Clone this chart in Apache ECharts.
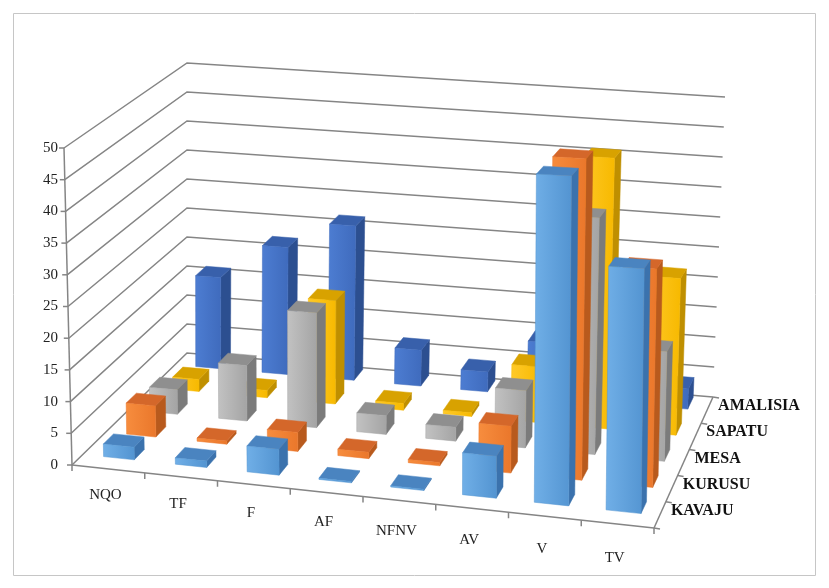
<!DOCTYPE html>
<html>
<head>
<meta charset="utf-8">
<script src="https://cdn.jsdelivr.net/npm/echarts@6/dist/echarts.min.js"></script>
<style>
  html, body { margin: 0; padding: 0; background: #fff; }
  #main { width: 829px; height: 588px; }
</style>
</head>
<body>
<div id="main"></div>
<script>
// categories along the front edge, rows going back into the chart
var categories = ['NQO', 'TF', 'F', 'AF', 'NFNV', 'AV', 'V', 'TV'];
var rowNames = ['KAVAJU', 'KURUSU', 'MESA', 'SAPATU', 'AMALISIA'];
var yTicks = [0, 5, 10, 15, 20, 25, 30, 35, 40, 45, 50];

// values per row
var kavaju   = [2, 1, 4, 0.2, 0.2, 6.3, 49, 36];
var kurusu   = [5, 0.5, 3, 1, 0.5, 7.2, 49, 33];
var mesa     = [4, 9, 18.5, 3, 2.2, 9, 37, 17];
var sapatu   = [2, 1.2, 17, 1.1, 0.6, 9, 43.5, 25];
var amalisia = [15.5, 21.5, 26, 6, 3.3, 9, 3, 3.3];
var rowValues = [kavaju, kurusu, mesa, sapatu, amalisia];

// face colours for each row: front (light, dark), side, top
var rowColors = [
    ['#70afe7', '#5394d1', '#3b72ad', '#4a84c0'],
    ['#f78d3e', '#ea772b', '#b85a1d', '#d4672a'],
    ['#c2c2c2', '#a4a4a4', '#7b7b7b', '#8f8f8f'],
    ['#ffca2a', '#f7b900', '#bf8f00', '#d8a200'],
    ['#4d7dd2', '#3f6bbd', '#2c4f90', '#3860ab']
];

// corners of the 3d box on screen (front/back, bottom/top, left/right)
var box = {
    fbl: [72, 465], fbr: [654, 528], ftl: [64, 148], ftr: [658, 183],
    bbl: [187, 353], bbr: [713, 397], btl: [187, 63], btr: [725, 97]
};
var BAR_W = 0.49;     // part of a category band
var BAR_D = 0.09;     // part of the whole depth
var ROW0 = 0.14, ROW_STEP = 0.2;
var LINE = '#858585';
var SERIF = '"Liberation Serif", "Times New Roman", serif';

function lerp(a, b, t) {
    return [a[0] + (b[0] - a[0]) * t, a[1] + (b[1] - a[1]) * t];
}
// u: left->right, v: bottom->top, w: front->back
function project(u, v, w) {
    var bot = lerp(lerp(box.fbl, box.fbr, u), lerp(box.bbl, box.bbr, u), w);
    var top = lerp(lerp(box.ftl, box.ftr, u), lerp(box.btl, box.btr, u), w);
    return lerp(bot, top, v);
}
function normV(params, api, val) {
    var cs = params.coordSys;
    return (cs.y + cs.height - api.coord([0, val])[1]) / cs.height;
}

function renderFrame(params, api) {
    var cs = params.coordSys;
    var kids = [];
    var line = function (pts, w) {
        kids.push({ type: 'polyline', shape: { points: pts },
            style: { stroke: LINE, lineWidth: w || 1.5, fill: null } });
    };
    yTicks.forEach(function (t) {
        var v = normV(params, api, t);
        line([project(0, v, 0), project(0, v, 1), project(1, v, 1)]);
        var a = project(0, v, 0);
        line([a, [a[0] - 5, a[1]]]);
    });
    line([project(0, 0, 0), project(0, 1, 0)]);
    line([project(0, 0, 0), project(1, 0, 0)]);
    line([project(1, 0, 0), project(1, 0, 1)]);
    for (var k = 0; k <= categories.length; k++) {
        var p = project(k / categories.length, 0, 0);
        line([p, [p[0], p[1] + 6]]);
    }
    for (var r = 0; r <= rowNames.length; r++) {
        var q = project(1, 0, r / rowNames.length);
        line([q, [q[0] + 6, q[1] + 1]]);
    }
    categories.forEach(function (name, i) {
        var u = (api.coord([i, 0])[0] - cs.x) / cs.width;
        var p = project(u, 0, 0);
        kids.push({ type: 'text', x: p[0] - 3, y: p[1] + 26 + 8 * u,
            style: { text: name, font: '15px ' + SERIF, fill: '#222',
                align: 'center', verticalAlign: 'middle' } });
    });
    rowNames.forEach(function (name, r) {
        var p = project(1, 0, (r + 0.5) / rowNames.length);
        kids.push({ type: 'text', x: p[0] + 11, y: p[1] - 4,
            style: { text: name, font: 'bold 16px ' + SERIF, fill: '#111',
                align: 'left', verticalAlign: 'middle' } });
    });
    return { type: 'group', children: kids };
}

function renderBar(row) {
    return function (params, api) {
        var cs = params.coordSys;
        var c = api.coord([api.value(0), api.value(1)]);
        var uc = (c[0] - cs.x) / cs.width;
        var v = (cs.y + cs.height - c[1]) / cs.height;
        var wc = ROW0 + ROW_STEP * row;
        // bars get a bit narrower to the left and further back
        var half = api.size([1, 0])[0] / cs.width * BAR_W / 2 * (0.88 + 0.14 * uc) * (1 - 0.15 * wc);
        var u0 = uc - half, u1 = uc + half;
        var w0 = wc - BAR_D / 2, w1 = wc + BAR_D / 2;
        var col = rowColors[row];
        var face = function (pts, fill) {
            return { type: 'polygon', shape: { points: pts },
                style: { fill: fill, stroke: typeof fill === 'string' ? fill : col[1], lineWidth: 0.5 } };
        };
        return { type: 'group', children: [
            face([project(u1, 0, w0), project(u1, 0, w1), project(u1, v, w1), project(u1, v, w0)], col[2]),
            face([project(u0, v, w0), project(u1, v, w0), project(u1, v, w1), project(u0, v, w1)], col[3]),
            face([project(u0, 0, w0), project(u1, 0, w0), project(u1, v, w0), project(u0, v, w0)],
                new echarts.graphic.LinearGradient(0, 0, 1, 0, [
                    { offset: 0, color: col[0] }, { offset: 1, color: col[1] }
                ]))
        ] };
    };
}

var chart = echarts.init(document.getElementById('main'));

var series = [{
    type: 'custom', name: 'frame', silent: true, z: 1,
    renderItem: renderFrame, data: [[0, 0]], encode: { x: 0, y: 1 }
}];
// back rows first so front rows cover them
for (var r = rowNames.length - 1; r >= 0; r--) {
    series.push({
        type: 'custom',
        name: rowNames[r],
        z: 2 + (rowNames.length - r),
        clip: false,
        renderItem: renderBar(r),
        encode: { x: 0, y: 1 },
        data: rowValues[r].map(function (val, i) { return [i, val]; })
    });
}

chart.setOption({
    animation: false,
    graphic: [{
        type: 'rect', silent: true,
        shape: { x: 13.5, y: 13.5, width: 802, height: 562 },
        style: { fill: null, stroke: '#c6c6c6', lineWidth: 1 }
    }],
    grid: {
        left: box.fbl[0], top: box.ftl[1],
        width: box.fbr[0] - box.fbl[0], height: box.fbl[1] - box.ftl[1]
    },
    xAxis: { type: 'category', data: categories, show: false },
    yAxis: {
        type: 'value', min: 0, max: 50, interval: 5,
        axisLine: { show: false }, axisTick: { show: false }, splitLine: { show: false },
        axisLabel: { fontFamily: SERIF, fontSize: 15, color: '#222', margin: 14 }
    },
    series: series
});
</script>
</body>
</html>
